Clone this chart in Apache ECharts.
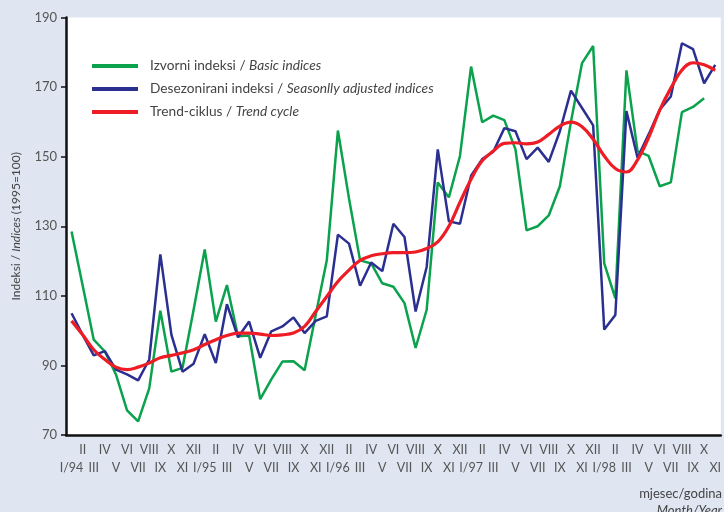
<!DOCTYPE html>
<html>
<head>
<meta charset="utf-8">
<script src="https://cdn.jsdelivr.net/npm/echarts@6/dist/echarts.min.js"></script>
<style>
  html, body { margin: 0; padding: 0; background: #dfe6f2; overflow: hidden; }
  #chart { width: 724px; height: 512px; }
</style>
</head>
<body>
<div id="chart"></div>
<script>
// mjeseci I/94 - XI/98
const categories = [
  'I/94', 'II', 'III', 'IV', 'V', 'VI', 'VII', 'VIII', 'IX', 'X', 'XI', 'XII',
  'I/95', 'II', 'III', 'IV', 'V', 'VI', 'VII', 'VIII', 'IX', 'X', 'XI', 'XII',
  'I/96', 'II', 'III', 'IV', 'V', 'VI', 'VII', 'VIII', 'IX', 'X', 'XI', 'XII',
  'I/97', 'II', 'III', 'IV', 'V', 'VI', 'VII', 'VIII', 'IX', 'X', 'XI', 'XII',
  'I/98', 'II', 'III', 'IV', 'V', 'VI', 'VII', 'VIII', 'IX', 'X', 'XI'
];

const basicIdx = [
  128.5, 113, 97.4, 94, 87.4, 77.1, 73.9, 83.4, 105.7, 88.2, 89.3, 106,
  123.3, 102.6, 113.1, 98.4, 98.6, 80.3, 86, 91.1, 91.2, 88.6, 104.5, 120.2,
  157.5, 138, 120.2, 119.3, 113.6, 112.6, 107.9, 95, 106, 142.6, 138.3, 150.2,
  175.9, 159.9, 161.8, 160.5, 152.1, 128.8, 130, 133.1, 141.5, 160, 176.9, 181.8,
  119.3, 109.3, 174.8, 151.6, 150.2, 141.5, 142.6, 162.8, 164.3, 166.8
];

const adjustedIdx = [
  105, 98.8, 92.9, 94.1, 88.8, 87.4, 85.7, 91.7, 121.9, 98.8, 88.2, 90.5,
  99, 90.7, 107.6, 98.1, 102.6, 92.2, 99.8, 101.2, 103.8, 99.3, 102.8, 104.1,
  127.6, 125, 112.9, 119.6, 117.1, 130.7, 126.9, 105.5, 118.3, 152.1, 131.4, 130.7,
  144.5, 149.3, 151.4, 158.2, 157.3, 149.3, 152.6, 148.5, 157.3, 169, 164, 159,
  100.3, 104.5, 163.1, 149.7, 156.4, 163.5, 167.3, 182.6, 180.9, 171.1, 176.4
];

const trendIdx = [
  102.8, 98.8, 94.5, 91.7, 89.5, 88.8, 89.5, 90.7, 92.2, 92.9, 93.6, 94.5,
  96, 97.4, 98.6, 99.3, 99.3, 99, 98.6, 98.8, 99.3, 101.2, 105.5, 109.8,
  114.1, 117.4, 120.2, 121.5, 122.1, 122.4, 122.4, 122.6, 123.6, 125.5, 130, 136.9,
  143.5, 148.8, 151.6, 153.8, 154, 153.7, 154.2, 156.4, 158.8, 159.9, 158.6, 155,
  150.2, 146.6, 145.6, 149.1, 155.5, 163.4, 169.7, 174.9, 177, 176.4, 174.8
];

const yTicks = { min: 70, max: 190, step: 20 };

const chart = echarts.init(document.getElementById('chart'));
const font = 'Lato';

const option = {
  backgroundColor: '#dfe6f2',
  animation: false,
  textStyle: { fontFamily: font },
  grid: {
    left: 66,
    right: 0,
    top: 17.5,
    bottom: 77,
    show: true,
    backgroundColor: '#ffffff',
    borderWidth: 0
  },
  legend: {
    orient: 'vertical',
    left: 87,
    top: 54,
    itemWidth: 46,
    itemHeight: 4,
    itemGap: 9,
    icon: 'rect',
    data: ['basic', 'adjusted', 'trend'],
    formatter: function (name) {
      if (name === 'basic') return '{n|Izvorni indeksi / }{i|Basic indices}';
      if (name === 'adjusted') return '{n|Desezonirani indeksi / }{i|Seasonlly adjusted indices}';
      return '{n|Trend-ciklus / }{i|Trend cycle}';
    },
    textStyle: {
      padding: [0, 0, 0, 7],
      rich: {
        n: { fontFamily: font, fontSize: 13.7, color: '#444', lineHeight: 17 },
        i: { fontFamily: font, fontSize: 13.7, color: '#444', fontStyle: 'italic', lineHeight: 17 }
      }
    }
  },
  xAxis: {
    type: 'category',
    data: categories,
    boundaryGap: true,
    axisLine: { lineStyle: { color: '#111', width: 2.5 } },
    axisTick: { show: false },
    axisLabel: {
      interval: 0,
      margin: 6,
      color: '#555',
      fontSize: 12.5,
      lineHeight: 18,
      formatter: function (value, index) {
        return index % 2 === 0 ? '\n' + value : value;
      }
    }
  },
  yAxis: {
    type: 'value',
    min: yTicks.min,
    max: yTicks.max,
    interval: yTicks.step,
    splitLine: { show: false },
    axisLine: { show: true, lineStyle: { color: '#111', width: 2.5 } },
    axisTick: { show: true, length: 5, lineStyle: { color: '#111', width: 1.5 } },
    axisLabel: { color: '#555', fontSize: 13, margin: 9 },
    name: '{n|Indeksi / }{i|Indices}{n| (1995=100)}',
    nameLocation: 'middle',
    nameRotate: 90,
    nameGap: 44,
    nameTextStyle: {
      rich: {
        n: { fontFamily: font, fontSize: 12, color: '#444' },
        i: { fontFamily: font, fontSize: 12, color: '#444', fontStyle: 'italic' }
      }
    }
  },
  graphic: [
    {
      type: 'text',
      right: 2,
      top: 487,
      style: { text: 'mjesec/godina', fill: '#444', fontSize: 13, fontFamily: font, align: 'right' }
    },
    {
      type: 'text',
      right: 2,
      top: 504,
      style: { text: 'Month/Year', fill: '#444', fontSize: 13, fontFamily: font, fontStyle: 'italic', align: 'right' }
    }
  ],
  series: [
    {
      name: 'basic',
      type: 'line',
      data: basicIdx,
      showSymbol: false,
      lineStyle: { color: '#0aa24c', width: 2.5 },
      itemStyle: { color: '#0aa24c' }
    },
    {
      name: 'adjusted',
      type: 'line',
      data: adjustedIdx,
      showSymbol: false,
      lineStyle: { color: '#2b3090', width: 2.5 },
      itemStyle: { color: '#2b3090' }
    },
    {
      name: 'trend',
      type: 'line',
      data: trendIdx,
      showSymbol: false,
      smooth: 0.4,
      lineStyle: { color: '#ee1c25', width: 3.2 },
      itemStyle: { color: '#ee1c25' }
    }
  ]
};

chart.setOption(option);
</script>
</body>
</html>
